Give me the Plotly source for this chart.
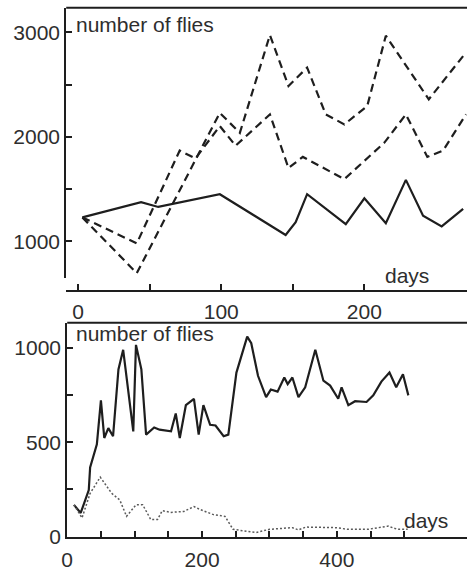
import plotly.graph_objects as go

# ---- data ----
top_solid_days = [3, 44, 56, 99, 145, 152, 160, 187, 200, 215, 229, 241, 254, 269]
top_solid_vals = [1229, 1375, 1329, 1451, 1061, 1183, 1451, 1165, 1412, 1174, 1588, 1244, 1143, 1311]

top_dashA_days = [3, 41, 99, 113, 134, 147, 160, 173, 186, 202, 215, 245, 271]
top_dashA_vals = [1229, 695, 2230, 2038, 2974, 2487, 2663, 2215, 2119, 2295, 2968, 2359, 2808]

top_dashB_days = [3, 41, 71, 82, 99, 110, 134, 147, 157, 186, 214, 229, 244, 255, 271]
top_dashB_vals = [1229, 980, 1869, 1793, 2103, 1915, 2215, 1701, 1808, 1595, 1945, 2215, 1808, 1869, 2215]

bot_solid_days = [10, 20, 32, 34, 44, 50, 55, 61, 68, 76, 83, 98, 102, 110, 117, 129, 137, 154,
                  161, 167, 176, 188, 195, 202, 212, 220, 232, 239, 251, 267, 273, 283, 295,
                  302, 312, 322, 327, 334, 343, 353, 368, 380, 390, 402, 407, 417, 427, 444,
                  454, 466, 478, 488, 498, 506]
bot_solid_vals = [168, 125, 246, 367, 489, 723, 523, 575, 532, 887, 991, 558, 1017, 887, 541,
                  579, 567, 558, 653, 523, 697, 731, 541, 697, 593, 589, 532, 541, 870, 1061,
                  1026, 853, 740, 780, 769, 844, 809, 844, 740, 792, 991, 827, 801, 731, 792,
                  697, 718, 714, 749, 822, 870, 792, 861, 749]

bot_dot_days = [10, 22, 34, 49, 66, 78, 88, 102, 112, 124, 134, 141, 154, 173, 188, 198, 217,
                234, 246, 266, 280, 300, 334, 343, 354, 398, 417, 446, 476, 490, 505]
bot_dot_vals = [168, 99, 229, 315, 229, 194, 107, 168, 168, 90, 90, 137, 128, 133, 159, 142,
                116, 107, 38, 26, 21, 38, 47, 35, 50, 47, 38, 38, 55, 38, 38]

top_yticks = [1000, 2000, 3000]
top_yminor = [1500, 2500]
top_xticks = [0, 100, 200]
top_xminor = [50, 150]
bot_yticks = [0, 500, 1000]
bot_yminor = [250, 750]
bot_xticks = [0, 200, 400]
bot_xminor = [50, 100, 150, 250, 300, 350, 450, 500]

W, H = 467, 571
INK = "#1e1e1e"
TXT = "#2e2e2e"
FONT = "Liberation Sans, Arial, sans-serif"
FS = 21


def px(x):
    return x / W


def py(y):
    return 1 - y / H


fig = go.Figure()
line_s = dict(color=INK, width=2.2)
fig.add_trace(go.Scatter(x=top_solid_days, y=top_solid_vals, mode="lines", line=line_s,
                         xaxis="x", yaxis="y", showlegend=False))
fig.add_trace(go.Scatter(x=top_dashA_days, y=top_dashA_vals, mode="lines",
                         line=dict(color=INK, width=2.2, dash="8px,5px"),
                         xaxis="x", yaxis="y", showlegend=False))
fig.add_trace(go.Scatter(x=top_dashB_days, y=top_dashB_vals, mode="lines",
                         line=dict(color=INK, width=2.2, dash="8px,5px"),
                         xaxis="x", yaxis="y", showlegend=False))
fig.add_trace(go.Scatter(x=bot_solid_days, y=bot_solid_vals, mode="lines", line=line_s,
                         xaxis="x2", yaxis="y2", showlegend=False))
fig.add_trace(go.Scatter(x=bot_dot_days, y=bot_dot_vals, mode="lines",
                         line=dict(color="#5a5a5a", width=1.5, dash="2px,2px"),
                         xaxis="x2", yaxis="y2", showlegend=False))

ax_common = dict(showgrid=False, zeroline=False, showline=True, linecolor=INK, linewidth=2,
                 ticks="inside", tickcolor=INK, tickwidth=2, ticklen=6,
                 tickfont=dict(family=FONT, size=FS, color=TXT), fixedrange=True)

fig.update_layout(
    width=W, height=H,
    margin=dict(l=0, r=0, t=0, b=0),
    paper_bgcolor="white", plot_bgcolor="white",
    font=dict(family=FONT, color=TXT),
    xaxis=dict(domain=[px(61), 1], range=[-8.3, 271.7], anchor="free", position=py(297),
               tickmode="array", tickvals=top_xticks, ticklabelstandoff=2,
               minor=dict(tickmode="array", tickvals=top_xminor, ticks="inside", ticklen=6,
                          tickwidth=2, tickcolor=INK),
               **ax_common),
    yaxis=dict(domain=[py(283), py(8)], range=[653, 3235], anchor="x",
               tickmode="array", tickvals=top_yticks,
               minor=dict(tickmode="array", tickvals=top_yminor, ticks="inside", ticklen=6,
                          tickwidth=2, tickcolor=INK),
               **ax_common),
    xaxis2=dict(domain=[px(62), 1], range=[0, 593], anchor="y2",
                tickmode="array", tickvals=bot_xticks, ticklabelstandoff=2,
                minor=dict(tickmode="array", tickvals=bot_xminor, ticks="inside", ticklen=6,
                           tickwidth=2, tickcolor=INK),
                **ax_common),
    yaxis2=dict(domain=[py(548), py(329)], range=[-5, 1135], anchor="x2",
                tickmode="array", tickvals=bot_yticks,
                minor=dict(tickmode="array", tickvals=bot_yminor, ticks="inside", ticklen=6,
                           tickwidth=2, tickcolor=INK),
                **ax_common),
    shapes=[
        dict(type="line", xref="paper", yref="paper", x0=px(61), x1=1, y0=py(8), y1=py(8),
             line=dict(color=INK, width=2)),
        dict(type="line", xref="paper", yref="paper", x0=px(62), x1=1, y0=py(329), y1=py(329),
             line=dict(color=INK, width=2)),
    ],
    annotations=[
        dict(text="number of flies", xref="paper", yref="paper", x=px(69), y=py(25),
             xanchor="left", yanchor="middle", showarrow=False,
             font=dict(family=FONT, size=FS, color=TXT)),
        dict(text="days", xref="paper", yref="paper", x=px(406), y=py(281),
             xanchor="center", yanchor="middle", showarrow=False,
             font=dict(family=FONT, size=FS, color=TXT)),
        dict(text="number of flies", xref="paper", yref="paper", x=px(69), y=py(340),
             xanchor="left", yanchor="middle", showarrow=False,
             font=dict(family=FONT, size=FS, color=TXT)),
        dict(text="days", xref="paper", yref="paper", x=px(425), y=py(531),
             xanchor="center", yanchor="middle", showarrow=False,
             font=dict(family=FONT, size=FS, color=TXT)),
    ],
)

page_js = (
    "var d=document.documentElement,b=document.body;"
    "d.style.margin='0';d.style.padding='0';d.style.overflow='hidden';"
    "b.style.margin='0';b.style.padding='0';b.style.overflow='hidden';"
    "var g=document.querySelector('.plotly-graph-div');"
    "if(g){g.style.overflow='hidden';}"
    "document.querySelectorAll('.svg-container, .main-svg').forEach(function(s){s.style.overflow='hidden';});"
)
fig.write_html("out.html", config={"displayModeBar": False}, post_script=page_js)
